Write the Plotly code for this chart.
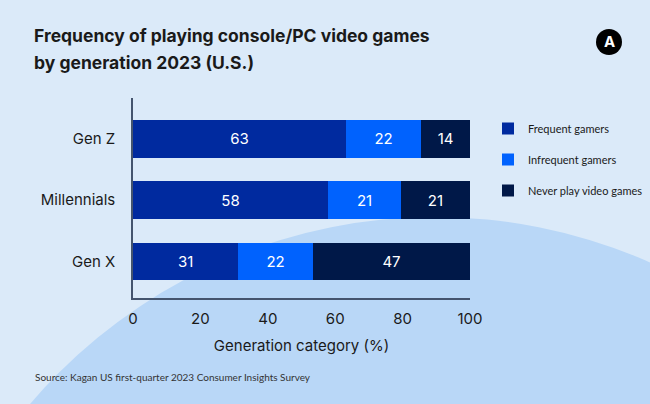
import plotly.graph_objects as go

# ---- data ----
generations = ["Gen Z", "Millennials", "Gen X"]
frequent = [63.2, 57.9, 31.2]
infrequent = [22.3, 21.6, 22.2]
never = [14.5, 20.5, 46.6]
frequent_labels = ["63", "58", "31"]
infrequent_labels = ["22", "21", "22"]
never_labels = ["14", "21", "47"]
series_names = ["Frequent gamers", "Infrequent gamers", "Never play video games"]
x_ticks = [0, 20, 40, 60, 80, 100]
title_lines = ["Frequency of playing console/PC video games", "by generation 2023 (U.S.)"]

colors = ["#002a9f", "#0062fe", "#001848"]

W, H = 650, 404
L, R, T, B = 133, 470, 98, 298  # plot area in pixels


def px_x(p):
    return (p - L) / (R - L)


def px_y(p):
    return (B - p) / (B - T)


font_family = "Inter, Lato, sans-serif"
small_font = "Lato, Inter, sans-serif"

fig = go.Figure()
for name, vals, labels, col in zip(series_names, [frequent, infrequent, never],
                                   [frequent_labels, infrequent_labels, never_labels], colors):
    fig.add_trace(go.Bar(
        y=generations, x=vals, name=name, orientation="h",
        marker=dict(color=col, line=dict(width=0)),
        text=labels, textposition="inside",
        insidetextanchor="middle",
        textfont=dict(color="white", size=15, family=font_family),
        width=0.62, legendgroup=name,
        hovertemplate="%{y}: %{text}%<extra>" + name + "</extra>",
    ))

# background arc
cx, cy, r = 435, 749, 532
shapes = [
    dict(type="circle", xref="paper", yref="paper", layer="below",
         x0=px_x(cx - r), x1=px_x(cx + r), y0=px_y(cy + r), y1=px_y(cy - r),
         fillcolor="#b9d7f7", line=dict(width=0)),
    # logo circle
    dict(type="circle", xref="paper", yref="paper",
         x0=px_x(596), x1=px_x(622), y0=px_y(55), y1=px_y(29),
         fillcolor="#000000", line=dict(width=0)),
]

annotations = [
    dict(text="Source: Kagan US first-quarter 2023 Consumer Insights Survey",
         xref="paper", yref="paper", x=px_x(33), y=px_y(377),
         xanchor="left", yanchor="middle", showarrow=False,
         font=dict(size=10, color="#333333", family=small_font)),
    dict(text="<b>A</b>", xref="paper", yref="paper", x=px_x(609), y=px_y(42),
         xanchor="center", yanchor="middle", showarrow=False,
         font=dict(size=15, color="white", family=font_family)),
]
for line, ypix in zip(title_lines, [36, 63]):
    annotations.append(dict(
        text="<b>" + line + "</b>", xref="paper", yref="paper",
        x=px_x(32), y=px_y(ypix), xanchor="left", yanchor="middle",
        showarrow=False, font=dict(size=17.5, color="#1a1a1a", family=font_family)))

fig.update_layout(
    width=W, height=H,
    margin=dict(l=L, r=W - R, t=T, b=H - B, pad=0, autoexpand=False),
    paper_bgcolor="#dbeaf9", plot_bgcolor="rgba(0,0,0,0)",
    barmode="stack", bargap=0.38,
    font=dict(family=font_family, color="#1a1a1a"),
    xaxis=dict(range=[0, 100], tickvals=x_ticks, ticktext=[str(t) for t in x_ticks],
               showgrid=False, zeroline=False, showline=True, linecolor="#44546e",
               linewidth=1.5, ticks="outside", ticklen=6, tickcolor="rgba(0,0,0,0)",
               tickfont=dict(size=15, color="#1a1a1a"),
               title=dict(text="Generation category (%)", standoff=14,
                          font=dict(size=15, color="#1a1a1a"))),
    yaxis=dict(categoryorder="array", categoryarray=generations,
               range=[2.596, -0.669], showgrid=False, zeroline=False,
               showline=True, linecolor="#44546e", linewidth=1.5,
               ticks="outside", ticklen=13, tickcolor="rgba(0,0,0,0)",
               tickfont=dict(size=15, color="#1a1a1a")),
    legend=dict(x=px_x(488), y=px_y(114), xanchor="left", yanchor="top",
                bgcolor="rgba(0,0,0,0)", font=dict(size=11, color="#1a1a1a", family=small_font),
                traceorder="grouped", tracegroupgap=12),
    shapes=shapes, annotations=annotations,
)

fig.write_html("out.html")
